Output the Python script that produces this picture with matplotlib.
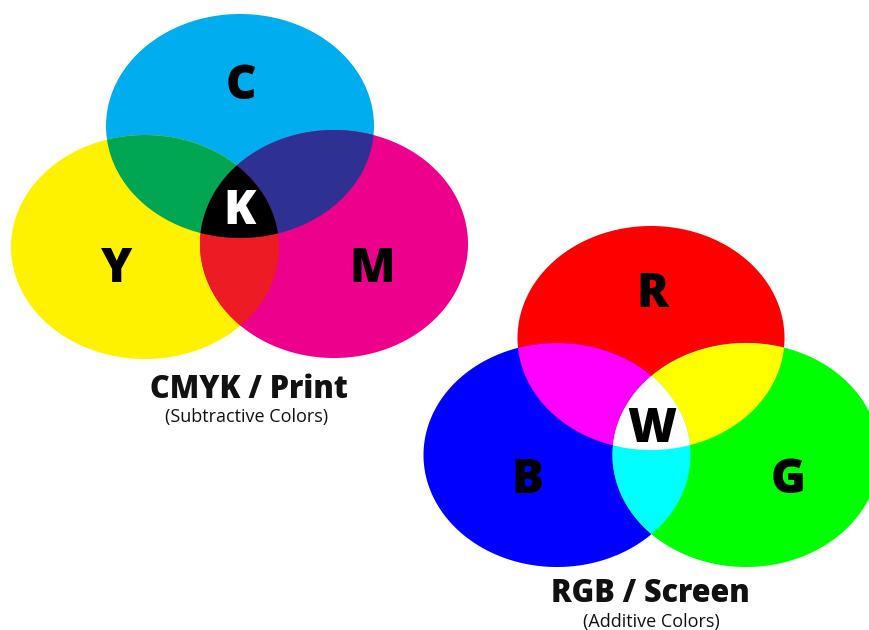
import numpy as np
import matplotlib
matplotlib.use("Agg")
import matplotlib.pyplot as plt
from matplotlib.patches import Polygon

# ellipses in pixel coords: centre x, centre y, width, height
cmyk_names = ["C", "Y", "M"]
cmyk_cx = [240, 145, 334]
cmyk_cy = [126, 247, 244]
cmyk_w = [268, 268, 268]
cmyk_h = [224, 224, 228]
cmyk_colors = ["#00AEEF", "#FFF200", "#EC008C"]
# overlap colours: C+Y, C+M, Y+M, all
cmyk_mix = ["#00A651", "#2E3192", "#ED1C24", "#000000"]

rgb_names = ["R", "B", "G"]
rgb_cx = [651, 557, 746]
rgb_cy = [338, 455, 455]
rgb_w = [267, 267, 267]
rgb_h = [224, 224, 224]
rgb_colors = ["#FF0000", "#0000FF", "#00FF00"]
# R+B, R+G, B+G, all
rgb_mix = ["#FF00FF", "#FFFF00", "#00FFFF", "#FFFFFF"]

cmyk_label_pos = {"C": (241, 87), "Y": (117, 270), "M": (372, 270), "K": (240, 212)}
rgb_label_pos = {"R": (652, 295), "B": (527, 481), "G": (788, 481), "W": (652, 430)}

titles = ["CMYK / Print", "RGB / Screen"]
subtitles = ["(Subtractive Colors)", "(Additive Colors)"]
title_pos = [(249, 390), (650, 594)]
subtitle_pos = [(247, 417), (651, 622)]


def ellipse_pts(cx, cy, w, h, n=720):
    t = np.linspace(0, 2 * np.pi, n, endpoint=False)
    return np.column_stack([cx + w / 2 * np.cos(t), cy + h / 2 * np.sin(t)])


def inside(pts, e):
    cx, cy, w, h = e
    return ((pts[:, 0] - cx) / (w / 2)) ** 2 + ((pts[:, 1] - cy) / (h / 2)) ** 2 <= 1.0


def intersect(ells):
    # intersection of convex shapes: boundary points inside all others, sorted by angle
    keep = []
    for i, e in enumerate(ells):
        p = ellipse_pts(*e, n=2000)
        m = np.ones(len(p), bool)
        for j, o in enumerate(ells):
            if j != i:
                m &= inside(p, o)
        keep.append(p[m])
    p = np.vstack(keep)
    c = p.mean(axis=0)
    ang = np.arctan2(p[:, 1] - c[1], p[:, 0] - c[0])
    return p[np.argsort(ang)]


def draw_set(ax, cx, cy, w, h, colors, mix):
    ells = list(zip(cx, cy, w, h))
    for e, col in zip(ells, colors):
        ax.add_patch(Polygon(ellipse_pts(*e), closed=True, fc=col, ec="none", zorder=1))
    pairs = [(0, 1), (0, 2), (1, 2)]
    for (a, b), col in zip(pairs, mix[:3]):
        ax.add_patch(Polygon(intersect([ells[a], ells[b]]), closed=True, fc=col, ec="none", zorder=2))
    ax.add_patch(Polygon(intersect(ells), closed=True, fc=mix[3], ec="none", zorder=3))


fig = plt.figure(figsize=(8.69, 6.30), dpi=100)
ax = fig.add_axes([0, 0, 1, 1])
ax.set_xlim(0, 869)
ax.set_ylim(630, 0)
ax.axis("off")

draw_set(ax, cmyk_cx, cmyk_cy, cmyk_w, cmyk_h, cmyk_colors, cmyk_mix)
draw_set(ax, rgb_cx, rgb_cy, rgb_w, rgb_h, rgb_colors, rgb_mix)

font = ["Open Sans", "DejaVu Sans"]
for lab, (x, y) in cmyk_label_pos.items():
    ax.text(x, y, lab, ha="center", va="center", fontsize=34, fontweight=800,
            fontstyle="normal", color="white" if lab == "K" else "black",
            family=font, zorder=5)
for lab, (x, y) in rgb_label_pos.items():
    ax.text(x, y, lab, ha="center", va="center", fontsize=34, fontweight=800,
            fontstyle="normal", color="black", family=font, zorder=5)

for t, (x, y) in zip(titles, title_pos):
    ax.text(x, y, t, ha="center", va="center", fontsize=22, fontweight=800,
            fontstyle="normal", family=font, color="#111111")
for t, (x, y) in zip(subtitles, subtitle_pos):
    ax.text(x, y, t, ha="center", va="center", fontsize=13,
            family=font, color="#111111")

fig.savefig("out.png", dpi=100)
